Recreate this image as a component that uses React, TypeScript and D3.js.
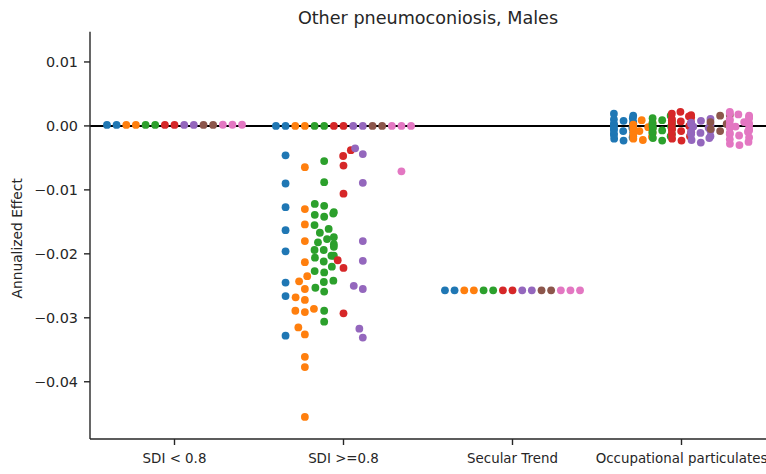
import * as d3 from 'd3';

// swarm plot: Other pneumoconiosis, Males
const categories = ["SDI < 0.8", "SDI >=0.8", "Secular Trend", "Occupational particulates"];
const hueColors = ["#1f77b4", "#ff7f0e", "#2ca02c", "#d62728", "#9467bd", "#8c564b", "#e377c2"];
const yTicks = [0.01, 0, -0.01, -0.02, -0.03, -0.04];

// one list per hue, for each category
const sdiLow = [
  [0.00015, 0.00015],
  [0.00015, 0.00015],
  [0.00015, 0.00015],
  [0.00015, 0.00015],
  [0.00015, 0.00015],
  [0.00015, 0.00015],
  [0.00018, 0.00018, 0.00018],
];

const sdiHigh = [
  [0, 0, -0.0046, -0.009, -0.0127, -0.0163, -0.0196, -0.0245, -0.0266, -0.0328],
  [0, 0, -0.00645, -0.013, -0.0154, -0.018, -0.0213, -0.0235, -0.0243, -0.0255, -0.0268, -0.0272,
    -0.0286, -0.0289, -0.0291, -0.0315, -0.0326, -0.0361, -0.0377, -0.0455],
  [0, 0, -0.0055, -0.0088, -0.0122, -0.0125, -0.0135, -0.0137, -0.0139, -0.0142, -0.0155, -0.0161,
    -0.0167, -0.0174, -0.0177, -0.0182, -0.0185, -0.0189, -0.0194, -0.0194, -0.0203, -0.0203,
    -0.0206, -0.0212, -0.022, -0.0227, -0.0229, -0.0242, -0.0244, -0.0253, -0.0259, -0.0289, -0.0306],
  [0, 0, -0.0038, -0.0047, -0.0062, -0.0106, -0.021, -0.0222, -0.0293],
  [0, 0, -0.0035, -0.0044, -0.0089, -0.018, -0.0211, -0.025, -0.0255, -0.0317, -0.0331],
  [0, 0],
  [0, 0, 0, -0.0071],
];

const secular = [
  [-0.0257, -0.0257],
  [-0.0257, -0.0257],
  [-0.0257, -0.0257],
  [-0.0257, -0.0257],
  [-0.0257, -0.0257],
  [-0.0257, -0.0257],
  [-0.0257, -0.0257, -0.0257],
];

const occupational = [
  [0.0019, 0.0016, 0.0012, 0.001, 0.0008, 0.0006, 0.0004, 0.0003, 0.0002, 0.0001, 0, -0.0001,
    -0.0002, -0.0003, -0.0005, -0.0006, -0.0008, -0.001, -0.0012, -0.0014, -0.0016, -0.0018, -0.002, -0.0023],
  [0.0009, 0.0005, 0.0002, 0, -0.0002, -0.0004, -0.0006, -0.0008, -0.0011, -0.0014, -0.0017, -0.002, -0.0022],
  [0.0016, 0.0012, 0.0009, 0.0006, 0.0004, 0.0002, 0, -0.0001, -0.0003, -0.0005, -0.0007, -0.0009,
    -0.0011, -0.0013, -0.0016, -0.0019, -0.0023],
  [0.0022, 0.0019, 0.0017, 0.0015, 0.0013, 0.0011, 0.0009, 0.0007, 0.0005, 0.0003, 0.0001, 0,
    -0.0002, -0.0004, -0.0006, -0.0008, -0.001, -0.0013, -0.0016, -0.002, -0.0023],
  [0.0011, 0.0008, 0.0005, 0.0003, 0.0001, -0.0001, -0.0003, -0.0005, -0.0007, -0.0009, -0.0011,
    -0.0013, -0.0016, -0.0019, -0.0022, -0.0026],
  [0.0017, 0.0016, 0.0006, 0.0003, -0.0005, -0.0008],
  [0.0022, 0.002, 0.0018, 0.0016, 0.0014, 0.0012, 0.001, 0.0008, 0.0006, 0.0004, 0.0002, 0.0001, 0,
    -0.0001, -0.0003, -0.0005, -0.0007, -0.0009, -0.0011, -0.0013, -0.0015, -0.0018, -0.0021,
    -0.0025, -0.0028, -0.003],
];

const seriesByCategory = [sdiLow, sdiHigh, secular, occupational];

const width = 766;
const height = 474;
const margin = { top: 31.7, right: 0, bottom: 35, left: 90 };
const font = "'DejaVu Sans', sans-serif";
const textColor = "#262626";
const yTickFont = 14.4;
const xTickFont = 13.4;

// beeswarm like seaborn: sort by value, put each point at the free spot nearest the centre
function swarm(py: number[], center: number, d: number, half: number): number[] {
  const order = py.map((_, i) => i).sort((a, b) => py[b] - py[a]);
  const placed: { x: number; y: number }[] = [];
  const xs: number[] = new Array(py.length);
  for (const i of order) {
    const y = py[i];
    const near = placed.filter((p) => Math.abs(p.y - y) < d);
    const lefts: number[] = [];
    const rights: number[] = [];
    near.forEach((p) => {
      const dx = Math.sqrt(d * d - (p.y - y) * (p.y - y));
      lefts.push(p.x - dx);
      rights.push(p.x + dx);
    });
    const cands = [center, ...lefts, ...rights]
      .map((x, k) => ({ x, k }))
      .sort((a, b) => {
        const diff = Math.abs(a.x - center) - Math.abs(b.x - center);
        return Math.abs(diff) > 1e-7 ? diff : a.k - b.k;
      });
    let chosen = cands[cands.length - 1].x;
    for (const c of cands) {
      if (near.every((p) => (p.x - c.x) ** 2 + (p.y - y) ** 2 >= d * d - 1e-6)) {
        chosen = c.x;
        break;
      }
    }
    placed.push({ x: chosen, y });
    xs[i] = chosen;
  }
  return xs.map((x) => Math.max(center - half, Math.min(center + half, x)));
}

export default function App() {
  const x = d3.scaleBand().domain(categories).range([margin.left, width - margin.right]).padding(0);
  const y = d3.scaleLinear().domain([-0.04895, 0.01473]).range([height - margin.bottom, margin.top]);
  const bw = x.bandwidth();
  const subW = (bw * 0.8) / hueColors.length;

  const dots: { cx: number; cy: number; color: string; key: string }[] = [];
  seriesByCategory.forEach((groups, ci) => {
    const catCenter = (x(categories[ci]) || 0) + bw / 2;
    groups.forEach((vals, hi) => {
      const center = catCenter + (hi - (hueColors.length - 1) / 2) * subW;
      const py = vals.map((v) => y(v));
      const xs = swarm(py, center, 9.6, subW / 2);
      py.forEach((cy, k) => dots.push({ cx: xs[k], cy, color: hueColors[hi], key: `${ci}-${hi}-${k}` }));
    });
  });

  const fmt = (v: number) => (v < 0 ? "\u2212" : "") + Math.abs(v).toFixed(2);
  const x0 = margin.left;
  const yBottom = height - margin.bottom;

  return (
    <svg width={width} height={height} style={{ position: 'absolute', left: 0, top: 0 }} fontFamily={font}>
      <rect width={width} height={height} fill="#fff" />
      <text x={(x0 + width) / 2} y={24} textAnchor="middle" fontSize={17.6} fill={textColor}>
        Other pneumoconiosis, Males
      </text>

      {/* zero line */}
      <line x1={x0} x2={width} y1={y(0)} y2={y(0)} stroke="#000" strokeWidth={2} />

      {dots.map((d) => (
        <circle key={d.key} cx={d.cx} cy={d.cy} r={3.9} fill={d.color} />
      ))}

      {/* y axis */}
      <line x1={x0} x2={x0} y1={margin.top} y2={yBottom} stroke={textColor} strokeWidth={1.4} />
      {yTicks.map((t) => (
        <g key={t} transform={`translate(0,${y(t)})`}>
          <line x1={x0 - 6} x2={x0} stroke={textColor} strokeWidth={1.4} />
          <text x={x0 - 12} dy="0.35em" textAnchor="end" fontSize={yTickFont} fill={textColor}>
            {fmt(t)}
          </text>
        </g>
      ))}
      <text
        transform={`translate(22,${(margin.top + yBottom) / 2 + 3}) rotate(-90)`}
        textAnchor="middle"
        fontSize={13.8}
        fill={textColor}
      >
        Annualized Effect
      </text>

      {/* x axis */}
      <line x1={x0} x2={width} y1={yBottom} y2={yBottom} stroke={textColor} strokeWidth={1.4} />
      {categories.map((c) => {
        const cx = (x(c) || 0) + bw / 2;
        return (
          <g key={c} transform={`translate(${cx},${yBottom})`}>
            <line y1={0} y2={6} stroke={textColor} strokeWidth={1.4} />
            <text y={24} textAnchor="middle" fontSize={xTickFont} fill={textColor}>
              {c}
            </text>
          </g>
        );
      })}
    </svg>
  );
}
